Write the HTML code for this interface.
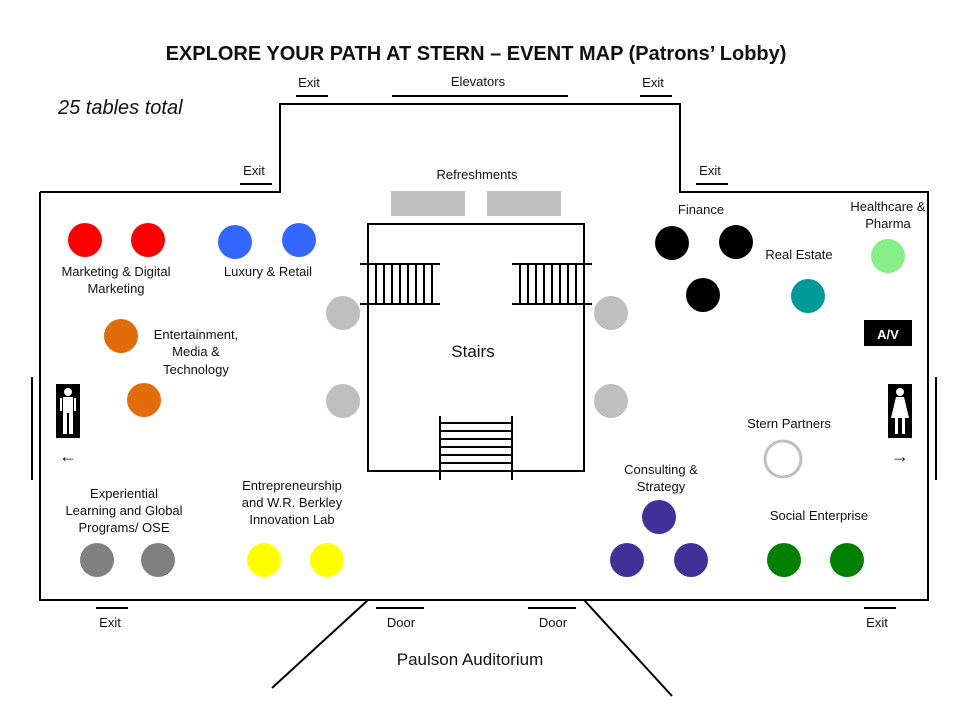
<!DOCTYPE html>
<html><head><meta charset="utf-8"><style>
body{margin:0;background:#fff}
svg text{font-family:"Liberation Sans",sans-serif;font-size:13px;fill:#111}
</style></head><body>
<svg width="960" height="720" viewBox="0 0 960 720" xmlns="http://www.w3.org/2000/svg">
<text x="476" y="60" text-anchor="middle" style="font-size:20px;font-weight:bold">EXPLORE YOUR PATH AT STERN – EVENT MAP (Patrons’ Lobby)</text>
<text x="58" y="114" style="font-size:20px;font-style:italic">25 tables total</text>
<g stroke="#000" stroke-width="2" fill="none">
<polyline points="40,192 280,192 280,104 680,104 680,192 928,192 928,600 40,600 40,192"/>
<line x1="368" y1="600" x2="272" y2="688"/><line x1="584" y1="600" x2="672" y2="696"/>
<line x1="32" y1="377" x2="32" y2="480"/><line x1="936" y1="377" x2="936" y2="480"/>
<line x1="296" y1="96" x2="328" y2="96"/><line x1="392" y1="96" x2="568" y2="96"/><line x1="640" y1="96" x2="672" y2="96"/>
<line x1="240" y1="184" x2="272" y2="184"/><line x1="696" y1="184" x2="728" y2="184"/>
<line x1="96" y1="608" x2="128" y2="608"/><line x1="376" y1="608" x2="424" y2="608"/><line x1="528" y1="608" x2="576" y2="608"/><line x1="864" y1="608" x2="896" y2="608"/>
<rect x="368" y="224" width="216" height="247"/>
<line x1="360" y1="264" x2="440" y2="264"/><line x1="360" y1="304" x2="440" y2="304"/>
<line x1="512" y1="264" x2="592" y2="264"/><line x1="512" y1="304" x2="592" y2="304"/>
<line x1="440" y1="416" x2="440" y2="480"/><line x1="512" y1="416" x2="512" y2="480"/>
</g>
<g stroke="#000" stroke-width="2">
<path d="M368 264V304M376 264V304M384 264V304M392 264V304M400 264V304M408 264V304M416 264V304M424 264V304M432 264V304"/>
<path d="M520 264V304M528 264V304M536 264V304M544 264V304M552 264V304M560 264V304M568 264V304M576 264V304M584 264V304"/>
<path d="M440 423H512M440 431H512M440 439H512M440 447H512M440 455H512M440 463H512"/>
</g>
<g>
<text x="309" y="87" text-anchor="middle">Exit</text><text x="478" y="86" text-anchor="middle">Elevators</text><text x="653" y="87" text-anchor="middle">Exit</text>
<text x="254" y="175" text-anchor="middle">Exit</text><text x="710" y="175" text-anchor="middle">Exit</text>
<text x="477" y="179" text-anchor="middle">Refreshments</text>
<text x="110" y="627" text-anchor="middle">Exit</text><text x="401" y="627" text-anchor="middle">Door</text><text x="553" y="627" text-anchor="middle">Door</text><text x="877" y="627" text-anchor="middle">Exit</text>
<text x="470" y="665" text-anchor="middle" style="font-size:17px">Paulson Auditorium</text>
<text x="473" y="357" text-anchor="middle" style="font-size:17px">Stairs</text>
</g>
<rect x="391" y="191" width="74" height="25" fill="#bfbfbf"/><rect x="487" y="191" width="74" height="25" fill="#bfbfbf"/>
<g fill="#bfbfbf"><circle cx="343" cy="313" r="17"/><circle cx="343" cy="401" r="17"/><circle cx="611" cy="313" r="17"/><circle cx="611" cy="401" r="17"/></g>
<g fill="#ff0000"><circle cx="85" cy="240" r="17"/><circle cx="148" cy="240" r="17"/></g>
<g fill="#3366ff"><circle cx="235" cy="242" r="17"/><circle cx="299" cy="240" r="17"/></g>
<g fill="#e36c0a"><circle cx="121" cy="336" r="17"/><circle cx="144" cy="400" r="17"/></g>
<g fill="#808080"><circle cx="97" cy="560" r="17"/><circle cx="158" cy="560" r="17"/></g>
<g fill="#ffff00"><circle cx="264" cy="560" r="17"/><circle cx="327" cy="560" r="17"/></g>
<g fill="#000"><circle cx="672" cy="243" r="17"/><circle cx="736" cy="242" r="17"/><circle cx="703" cy="295" r="17"/></g>
<circle cx="808" cy="296" r="17" fill="#009999"/>
<circle cx="888" cy="256" r="17" fill="#88f088"/>
<g fill="#403098"><circle cx="659" cy="517" r="17"/><circle cx="627" cy="560" r="17"/><circle cx="691" cy="560" r="17"/></g>
<g fill="#008000"><circle cx="784" cy="560" r="17"/><circle cx="847" cy="560" r="17"/></g>
<circle cx="783" cy="459" r="18" fill="none" stroke="#bfbfbf" stroke-width="3"/>
<rect x="864" y="320" width="48" height="26" fill="#000"/><text x="888" y="339" text-anchor="middle" style="fill:#fff;font-weight:bold">A/V</text>
<rect x="56" y="384" width="24" height="54" fill="#000"/>
<g fill="#fff"><circle cx="68" cy="392" r="4"/><rect x="63" y="397" width="10" height="16"/><rect x="63" y="410" width="4" height="24"/><rect x="69" y="410" width="4" height="24"/><rect x="60" y="398" width="2" height="13"/><rect x="74" y="398" width="2" height="13"/></g>
<rect x="888" y="384" width="24" height="54" fill="#000"/>
<g fill="#fff"><circle cx="900" cy="392" r="4"/><polygon points="896,397 904,397 909,418 891,418"/><rect x="895" y="417" width="3" height="17"/><rect x="902" y="417" width="3" height="17"/></g>
<text x="68" y="462" text-anchor="middle" style="font-size:18px">←</text><text x="900" y="462" text-anchor="middle" style="font-size:18px">→</text>
<g text-anchor="middle">
<text x="116" y="276">Marketing &amp; Digital</text><text x="116" y="293">Marketing</text>
<text x="268" y="276">Luxury &amp; Retail</text>
<text x="196" y="339">Entertainment,</text><text x="196" y="356">Media &amp;</text><text x="196" y="374">Technology</text>
<text x="124" y="498">Experiential</text><text x="124" y="515">Learning and Global</text><text x="124" y="532">Programs/ OSE</text>
<text x="292" y="490">Entrepreneurship</text><text x="292" y="507">and W.R. Berkley</text><text x="292" y="524">Innovation Lab</text>
<text x="701" y="214">Finance</text>
<text x="799" y="259">Real Estate</text>
<text x="888" y="211">Healthcare &amp;</text><text x="888" y="228">Pharma</text>
<text x="789" y="428">Stern Partners</text>
<text x="661" y="474">Consulting &amp;</text><text x="661" y="491">Strategy</text>
<text x="819" y="520">Social Enterprise</text>
</g>
</svg>
</body></html>
